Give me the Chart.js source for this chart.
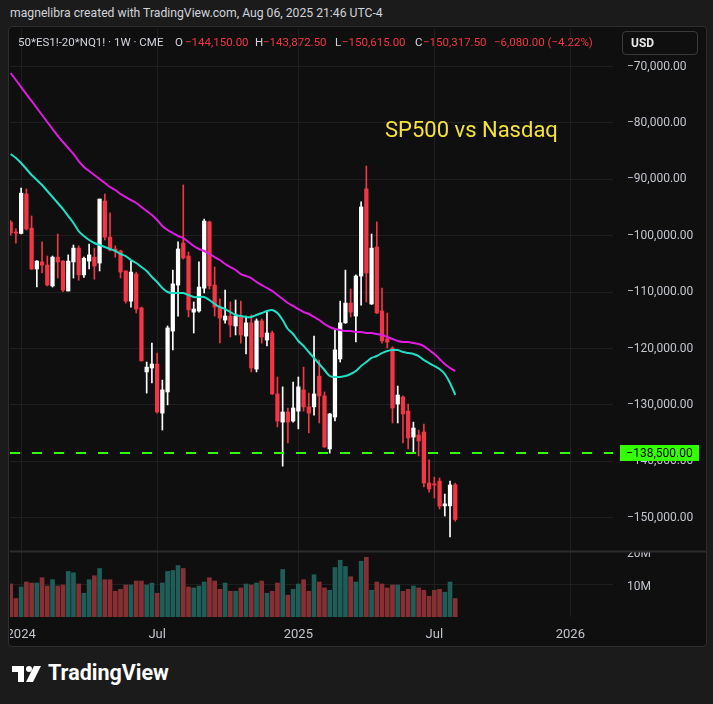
<!DOCTYPE html>
<html>
<head>
<meta charset="utf-8">
<script src="https://cdn.jsdelivr.net/npm/chart.js@4.4.1/dist/chart.umd.min.js"></script>
<style>
body { margin:0; width:713px; height:704px; overflow:hidden; position:relative; background:#1b1b1b; font-family: Roboto, "DejaVu Sans", sans-serif; }
#panel { position:absolute; left:8px; top:26px; width:699px; height:621px; background:#0f0f0f; border:1px solid #2e2e2e; border-radius:4px; box-sizing:border-box; }
#chart { position:absolute; left:10px; top:29px; }
.txt { position:absolute; white-space:nowrap; }
#hdr { left:10px; top:6px; font-size:12.2px; color:#d1d4dc; }
.lg { top:35px; font-size:11.5px; color:#d1d4dc; }
.red { color:#f23645; }
#usd { position:absolute; left:622px; top:31px; width:76px; height:24px; border:1px solid #3a3a3a; border-radius:4px; box-sizing:border-box; background:#0f0f0f; color:#e8e8e8; font-size:12px; font-weight:bold; line-height:22px; padding-left:8px; }
#title { left:385px; top:117px; font-size:22px; color:#f5e33a; }
#brand { left:48px; top:660px; font-size:21.5px; font-weight:bold; color:#ffffff; }
#logo { position:absolute; left:12px; top:666px; }
</style>
</head>
<body>
<div id="panel"></div>
<div id="hdr" class="txt">magnelibra created with TradingView.com, Aug 06, 2025 21:46 UTC-4</div>
<canvas id="chart" width="696" height="617"></canvas>
<div class="txt lg" style="left:18px">50*ES1!-20*NQ1! · 1W · CME</div>
<div class="txt lg" style="left:175px">O</div>
<div class="txt lg red" style="left:185px">−144,150.00</div>
<div class="txt lg" style="left:255px">H</div>
<div class="txt lg red" style="left:263px">−143,872.50</div>
<div class="txt lg" style="left:335px">L</div>
<div class="txt lg red" style="left:342px">−150,615.00</div>
<div class="txt lg" style="left:415px">C</div>
<div class="txt lg red" style="left:423px">−150,317.50</div>
<div class="txt lg red" style="left:494px">−6,080.00 (−4.22%)</div>
<div id="usd">USD</div>
<div id="title" class="txt">SP500 vs Nasdaq</div>
<svg id="logo" width="30" height="17" viewBox="0 0 30 17">
  <polygon points="0,0 12,0 12,16 6,16 6,6 0,6" fill="#ffffff"/>
  <circle cx="17" cy="3" r="3" fill="#ffffff"/>
  <polygon points="14,16 22,0 29,0 21,16" fill="#ffffff"/>
</svg>
<div id="brand" class="txt">TradingView</div>

<script>
/* weekly candles, first bar = week of 2023-12-18 */
var opens = [-97600,-99350,-99600,-92600,-98650,-105900,-104650,-105200,-108900,-103800,
  -104500,-109800,-104650,-102200,-106950,-104500,-103800,-104850,-93850,-100250,
  -102350,-102700,-106250,-111600,-106800,-112800,-124150,-123450,-122750,-131450,
  -127700,-116900,-108750,-101300,-103600,-113550,-113350,-109300,-97550,-108750,
  -112650,-114950,-114250,-116000,-114250,-117800,-115450,-123650,-115100,-118500,
  -117250,-128050,-133050,-131250,-132850,-131100,-127350,-130350,-130350,-124900,
  -128400,-137800,-132150,-121850,-115450,-111950,-114250,-107150,-91700,-112100,
  -102000,-113350,-118300,-119900,-129850,-128600,-131100,-135700,-135350,-134800,
  -143850,-144000,-143500,-147900,-147900,-144150];
var highs = [-97300,-98800,-91550,-91700,-96500,-104400,-101100,-103600,-103600,-99700,
  -104400,-103400,-101650,-101800,-103800,-101500,-102200,-93500,-92600,-95950,
  -101800,-102550,-106250,-104500,-106450,-112650,-122400,-119050,-120800,-125600,
  -116000,-106100,-101100,-91000,-102900,-111750,-104650,-97050,-97400,-105550,
  -111200,-109650,-111750,-111400,-111600,-114250,-114050,-114750,-114750,-113550,
  -116900,-125050,-126800,-130550,-125950,-125050,-123300,-127900,-117800,-122050,
  -127700,-131500,-116700,-111600,-106100,-109450,-106950,-94000,-87650,-99700,
  -97550,-109300,-113700,-119700,-126650,-128400,-129850,-133050,-134450,-133400,
  -139750,-142800,-142950,-145800,-143500,-143872.5];
var lows = [-99900,-101300,-99700,-99000,-106000,-109100,-106600,-108900,-109100,-107500,
  -109900,-109800,-107500,-107900,-107400,-105900,-107700,-106250,-100750,-102700,
  -103800,-107500,-111950,-112650,-113700,-122200,-127900,-126100,-131450,-134450,
  -130000,-120250,-114250,-104150,-114400,-117250,-113550,-110150,-109450,-114250,
  -119000,-115500,-117950,-117600,-119050,-120950,-124150,-124150,-119050,-119550,
  -128150,-133900,-140850,-136750,-133050,-134250,-131100,-134950,-131800,-133200,
  -137550,-138550,-132850,-122400,-115550,-114400,-118850,-112300,-111750,-112200,
  -113800,-119050,-119900,-133200,-133200,-136750,-137800,-138350,-139050,-144550,
  -145450,-146500,-148450,-149700,-153400,-150615];
var closes = [-99500,-99500,-92450,-98800,-105900,-104500,-105200,-108750,-103800,-104650,
  -109650,-104500,-102200,-106950,-104000,-103400,-105400,-93500,-100250,-102550,
  -102700,-106450,-111600,-106450,-113000,-122200,-123300,-122750,-131250,-127350,
  -116350,-108550,-102350,-103950,-113150,-113000,-109100,-97400,-108900,-112650,
  -114600,-114250,-115850,-114250,-117600,-115450,-123450,-115100,-117950,-117250,
  -128050,-132850,-131250,-133050,-130550,-126800,-130350,-131450,-128050,-128400,
  -137450,-131600,-120250,-115450,-111950,-113550,-107150,-94900,-106600,-102200,
  -113700,-118650,-118850,-130550,-128250,-131600,-135850,-134100,-136400,-143850,
  -144900,-144200,-147950,-147550,-144200,-150317.5];
// volume in millions
var volumes = [10.0,5.6,9.1,10.6,10.3,10.3,11.9,9.4,11.3,9.4,
  9.7,13.8,13.4,10.0,7.2,11.3,12.5,14.7,11.3,11.3,
  7.8,8.4,9.7,9.7,10.9,10.9,9.7,10.3,7.2,10.3,
  13.8,14.1,15.6,14.7,9.1,8.8,9.4,10.6,11.9,10.9,
  8.4,10.3,7.8,7.8,8.8,10.0,9.7,10.3,10.9,7.2,
  7.8,10.3,14.4,6.6,8.4,10.0,11.3,7.8,12.8,10.6,
  8.8,8.1,15.0,17.2,15.3,12.2,10.6,16.9,18.1,8.1,
  10.6,10.0,8.8,9.7,9.7,7.8,8.4,9.4,8.8,8.1,
  6.3,8.1,8.4,7.5,10.6,5.6];
var maSlow = [-71150,-72390,-73640,-74880,-76120,-77360,-78600,-79840,-81080,-82320,
  -83390,-84450,-85510,-86760,-87820,-88530,-89240,-89950,-90660,-91370,
  -91900,-92610,-93140,-93670,-94200,-94910,-95620,-96330,-97220,-98280,
  -98990,-99520,-100050,-100410,-101120,-101830,-102360,-102710,-103240,-103780,
  -104310,-105020,-105550,-106080,-106790,-107150,-107500,-108210,-108740,-109270,
  -109800,-110510,-111220,-111930,-112460,-113000,-113530,-113880,-114410,-114950,
  -115660,-116190,-116540,-116720,-116900,-116900,-117070,-117070,-117250,-117250,
  -117430,-117610,-117960,-118310,-118670,-118850,-118850,-119020,-119200,-119560,
  -120270,-120970,-121860,-122750,-123460,-123990];
var maFast = [-85510,-86220,-87110,-88170,-89240,-90120,-91010,-92070,-93140,-94200,
  -95270,-96510,-97750,-99170,-100050,-100760,-101290,-101650,-102000,-102360,
  -102710,-103240,-103600,-104310,-104840,-105550,-106260,-107320,-108210,-109270,
  -109980,-110160,-110160,-110160,-110510,-110870,-110870,-110870,-111400,-112110,
  -112640,-113000,-113530,-114060,-114240,-114410,-114410,-114060,-113710,-113350,
  -113170,-113710,-114950,-116540,-117430,-118670,-119560,-120620,-121680,-122750,
  -123810,-124880,-125050,-125050,-124880,-124520,-123990,-123100,-122390,-121680,
  -121330,-120800,-120440,-120270,-120270,-120620,-120800,-120970,-121330,-122040,
  -122570,-123100,-123630,-124520,-126120,-128240];

var timeTicks = [2, 28, 55, 81, 107];
var timeLabels = ['2024', 'Jul', '2025', 'Jul', '2026'];
var priceTicks = [-70000, -80000, -90000, -100000, -110000, -120000, -130000, -140000, -150000];
var volTicks = [10, 20];
var levelPrice = -138500;

var UP = '#ffffff', DOWN = '#f23645';
var VOL_UP = '#1f5e58', VOL_DOWN = '#873034';
var GRID = '#1f1f1f', AXIS_TXT = '#c3c6ce';

function fmtPrice(v) {
    return (v < 0 ? '\u2212' : '') + Math.abs(v).toLocaleString('en-US', {minimumFractionDigits: 2, maximumFractionDigits: 2});
}
function isUp(i) { return closes[i] >= opens[i]; }

Chart.defaults.font.family = 'Roboto, "DejaVu Sans", sans-serif';
Chart.defaults.font.size = 12;

// pane separator between price and volume; it also hides the top of the 20M label
var separator = {
    id: 'separator',
    afterDraw: function (chart) {
        var c = chart.ctx, a = chart.chartArea, y = Math.round(chart.scales.y.bottom) + 0.5;
        c.save();
        c.fillStyle = '#0f0f0f';
        c.fillRect(a.right + 1, y - 8, chart.width - a.right, 8);
        c.strokeStyle = '#2c2c2c';
        c.lineWidth = 2;
        c.beginPath();
        c.moveTo(0, y);
        c.lineTo(chart.width, y);
        c.stroke();
        c.restore();
    }
};

var levelLine = {
    id: 'levelLine',
    afterDraw: function (chart) {
        var c = chart.ctx, a = chart.chartArea;
        var y = Math.round(chart.scales.y.getPixelForValue(levelPrice));
        c.save();
        c.strokeStyle = '#33ff00';
        c.lineWidth = 2;
        c.setLineDash([10, 12]);
        c.beginPath();
        c.moveTo(a.left, y);
        c.lineTo(a.right, y);
        c.stroke();
        c.setLineDash([]);
        c.fillStyle = '#33ff00';
        c.fillRect(a.right + 7, y - 8, 79, 16);
        c.fillStyle = '#000000';
        c.font = '12px Roboto, "DejaVu Sans", sans-serif';
        c.textAlign = 'center';
        c.textBaseline = 'middle';
        c.fillText(fmtPrice(levelPrice), a.right + 46.5, y + 1);
        c.restore();
    }
};

var idx = opens.map(function (v, i) { return i; });

new Chart(document.getElementById('chart'), {
    type: 'bar',
    data: {
        datasets: [
            {
                type: 'line', label: 'MA slow', yAxisID: 'y', order: 0,
                data: idx.map(function (i) { return {x: i, y: maSlow[i]}; }),
                borderColor: '#e01be2', borderWidth: 2, pointRadius: 0, tension: 0.3
            },
            {
                type: 'line', label: 'MA fast', yAxisID: 'y', order: 0,
                data: idx.map(function (i) { return {x: i, y: maFast[i]}; }),
                borderColor: '#1fe0c6', borderWidth: 2, pointRadius: 0, tension: 0.3
            },
            {
                label: 'wick', yAxisID: 'y', order: 2, grouped: false,
                data: idx.map(function (i) { return {x: i, y: [lows[i], highs[i]]}; }),
                backgroundColor: idx.map(function (i) { return isUp(i) ? UP : DOWN; }),
                barThickness: 1
            },
            {
                label: 'body', yAxisID: 'y', order: 1, grouped: false,
                data: idx.map(function (i) { return {x: i, y: [opens[i], closes[i]]}; }),
                backgroundColor: idx.map(function (i) { return isUp(i) ? UP : DOWN; }),
                barThickness: 3.6, minBarLength: 1
            },
            {
                label: 'volume', yAxisID: 'yVol', order: 3, grouped: false,
                data: idx.map(function (i) { return {x: i, y: volumes[i]}; }),
                backgroundColor: idx.map(function (i) { return isUp(i) ? VOL_UP : VOL_DOWN; }),
                barThickness: 4
            }
        ]
    },
    options: {
        responsive: false,
        animation: false,
        layout: {padding: 0, autoPadding: false},
        plugins: {legend: {display: false}, tooltip: {enabled: false}},
        scales: {
            x: {
                type: 'linear', min: -0.13, max: 115.16, offset: false,
                grid: {color: GRID, drawTicks: false, offset: false},
                border: {display: false},
                ticks: {
                    color: AXIS_TXT, padding: 10, maxRotation: 0, autoSkip: false,
                    font: {size: 13},
                    callback: function (v) { return timeLabels[timeTicks.indexOf(v)]; }
                },
                afterBuildTicks: function (s) { s.ticks = timeTicks.map(function (v) { return {value: v}; }); },
                afterFit: function (s) { s.height = 29; s.paddingLeft = 0; s.paddingRight = 0; }
            },
            y: {
                position: 'right', stack: 'pane', stackWeight: 522,
                min: -155900, max: -63350,
                grid: {color: GRID, drawTicks: false},
                border: {display: false},
                ticks: {color: AXIS_TXT, padding: 14, callback: function (v) { return fmtPrice(v); }},
                afterBuildTicks: function (s) { s.ticks = priceTicks.map(function (v) { return {value: v}; }); },
                afterFit: function (s) { s.width = 93; s.paddingTop = 0; s.paddingBottom = 0; }
            },
            yVol: {
                position: 'right', stack: 'pane', stackWeight: 66,
                min: 0, max: 20,
                grid: {color: GRID, drawTicks: false},
                border: {display: false},
                ticks: {color: AXIS_TXT, padding: 14, labelOffset: 3, callback: function (v) { return v + 'M'; }},
                afterBuildTicks: function (s) { s.ticks = volTicks.map(function (v) { return {value: v}; }); },
                afterFit: function (s) { s.width = 93; s.paddingTop = 0; s.paddingBottom = 0; }
            }
        }
    },
    plugins: [separator, levelLine]
});
</script>
</body>
</html>
